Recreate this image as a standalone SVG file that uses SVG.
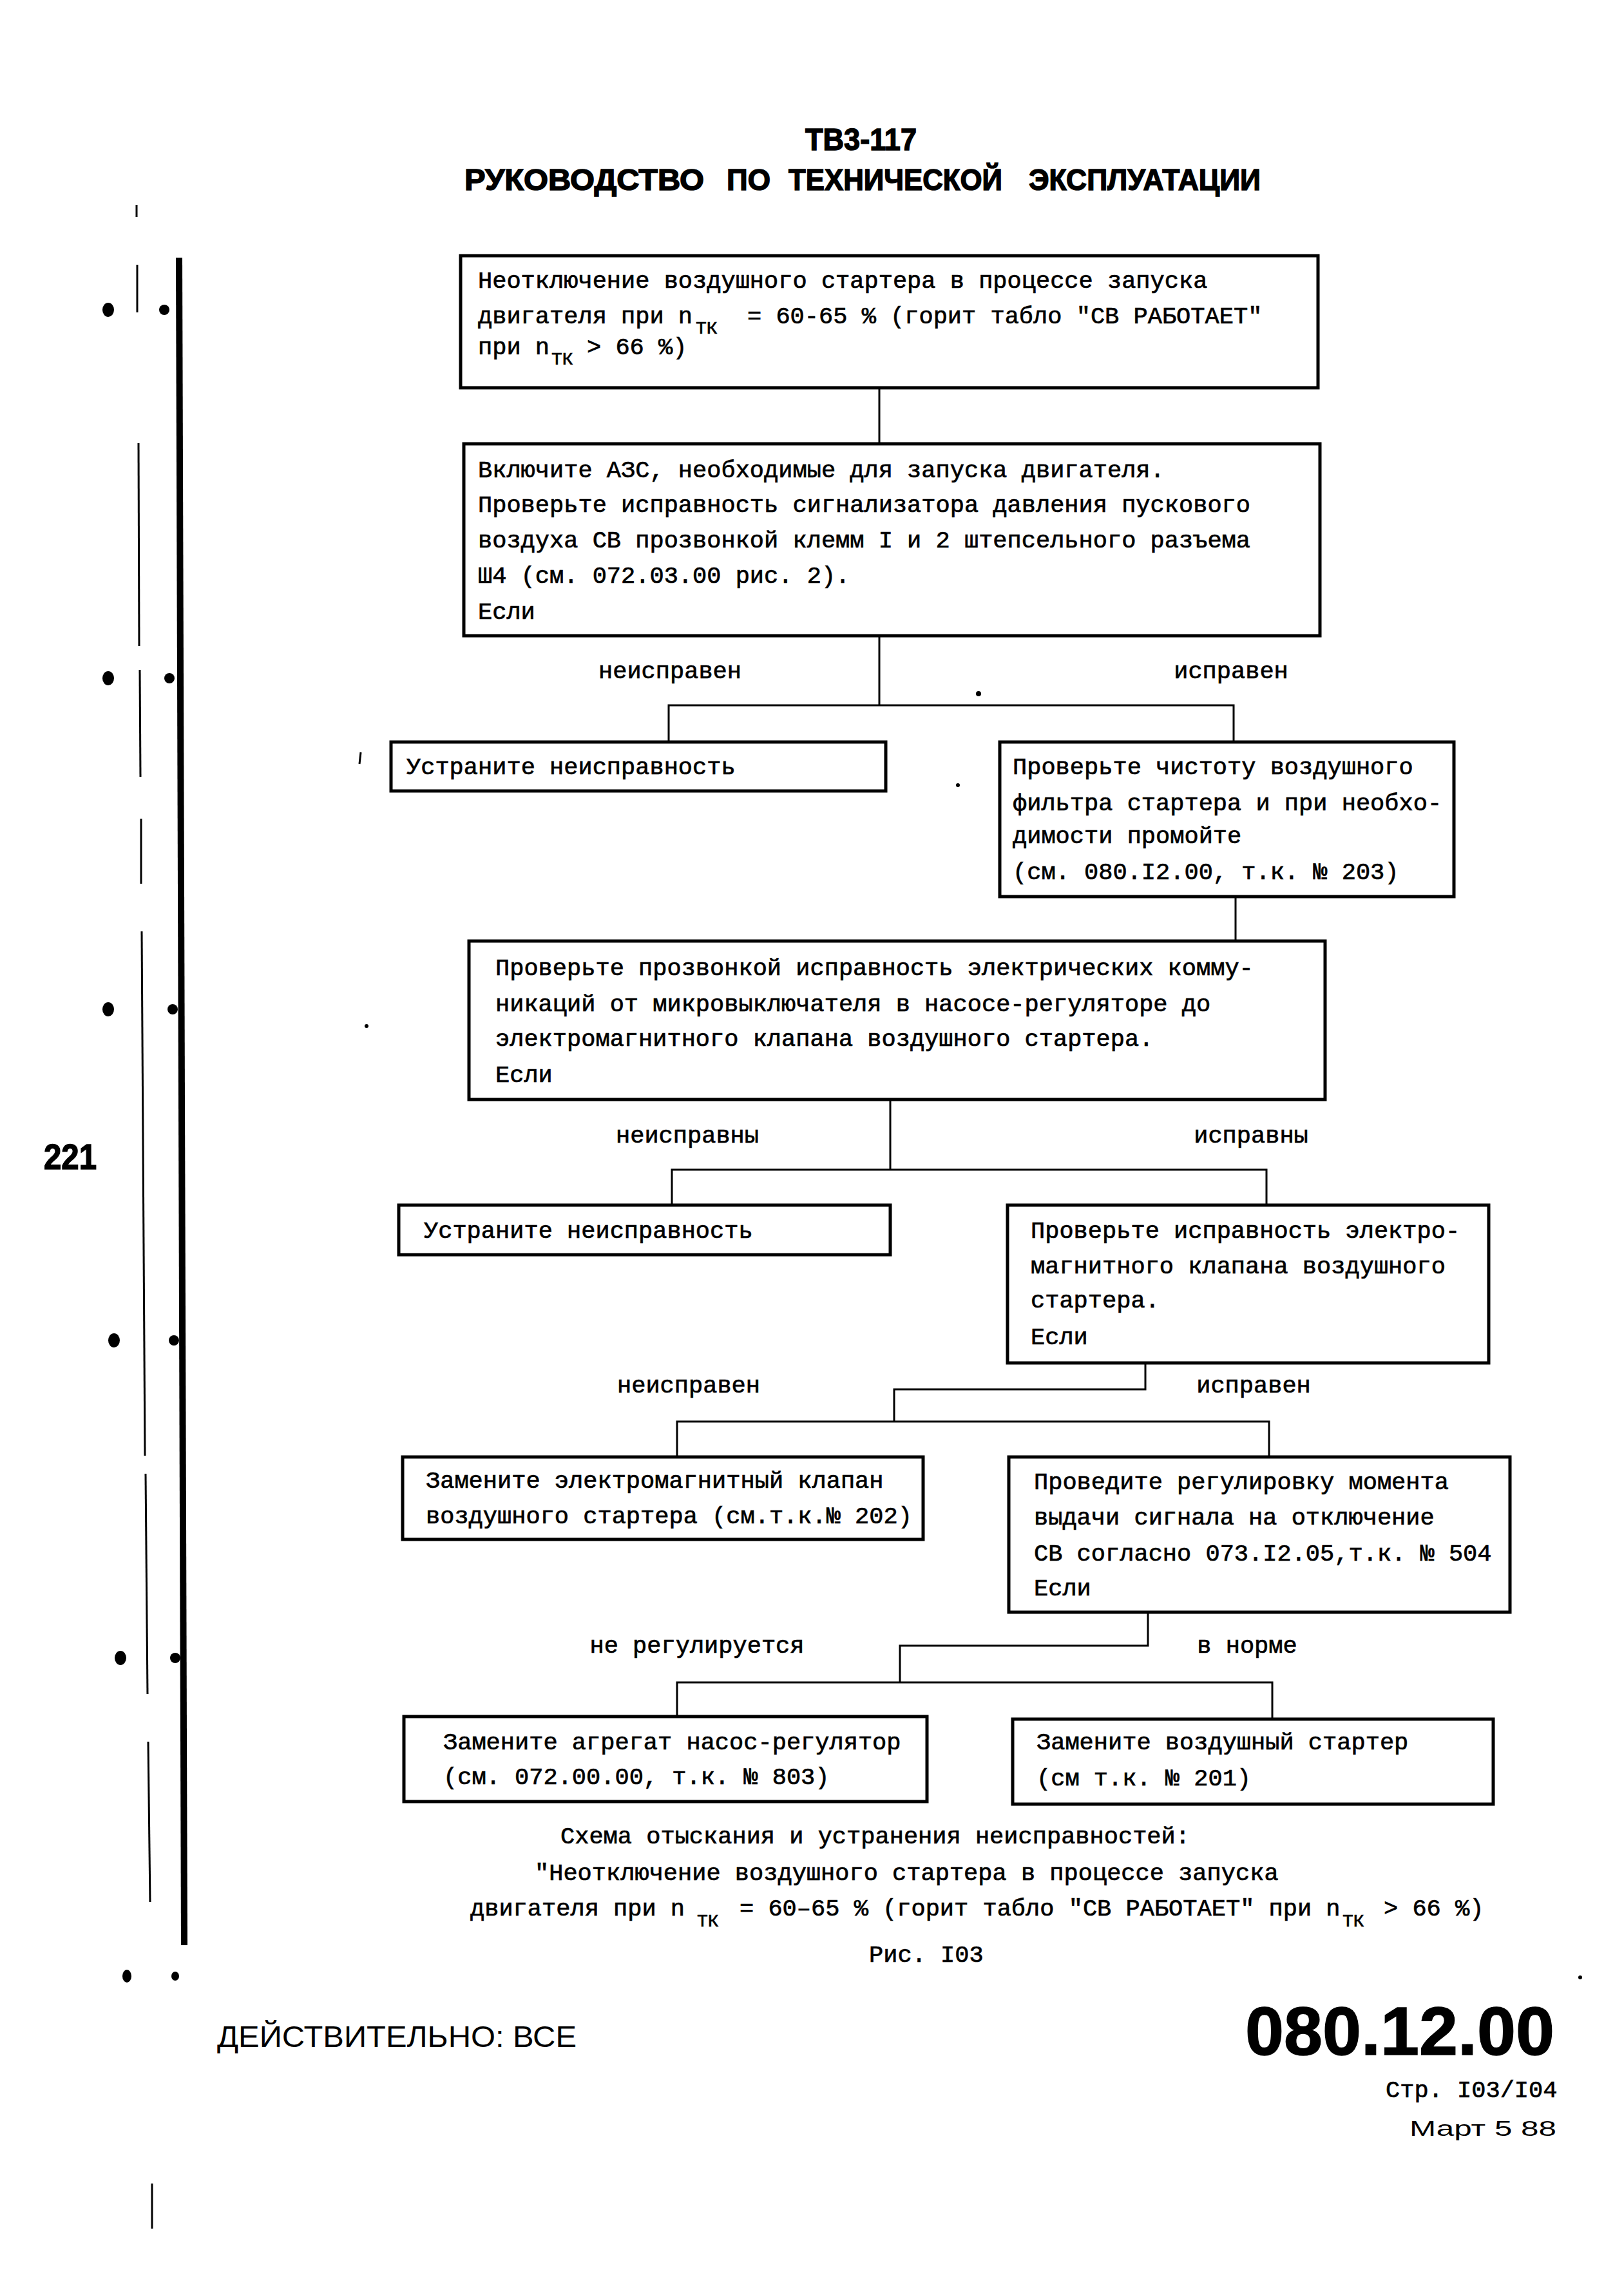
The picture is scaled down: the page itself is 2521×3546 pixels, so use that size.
<svg xmlns="http://www.w3.org/2000/svg" width="2521" height="3546" viewBox="0 0 2521 3546">
<style>
.bg{fill:#fff}
.box{fill:none;stroke:#000;stroke-width:5}
.con{fill:none;stroke:#000;stroke-width:3}
.t{font-family:"Liberation Mono","Courier New",monospace;font-size:37px;fill:#000;stroke:#000;stroke-width:0.7}
.sub{font-size:28px}
.lbl{font-family:"Liberation Mono","Courier New",monospace;font-size:37px;fill:#000;stroke:#000;stroke-width:0.7;text-anchor:middle}
.hd{font-family:"Liberation Sans",Arial,sans-serif;font-weight:bold;fill:#000;stroke:#000;stroke-width:1.5}
.sans{font-family:"Liberation Sans",Arial,sans-serif;fill:#000}
.mark{fill:#000}
</style>
<rect class="bg" x="0" y="0" width="2521" height="3546"/>

<g id="header">
<text class="hd" x="1250" y="233" font-size="48" textLength="173" lengthAdjust="spacingAndGlyphs">ТВ3-117</text>
<text class="hd" x="721" y="295" font-size="46" textLength="372" lengthAdjust="spacingAndGlyphs">РУКОВОДСТВО</text>
<text class="hd" x="1128" y="295" font-size="46" textLength="68" lengthAdjust="spacingAndGlyphs">ПО</text>
<text class="hd" x="1224" y="295" font-size="46" textLength="332" lengthAdjust="spacingAndGlyphs">ТЕХНИЧЕСКОЙ</text>
<text class="hd" x="1597" y="295" font-size="46" textLength="360" lengthAdjust="spacingAndGlyphs">ЭКСПЛУАТАЦИИ</text>
</g>

<g id="margin">
<line x1="278" y1="400" x2="286" y2="3020" stroke="#000" stroke-width="10"/>
<g stroke="#000" stroke-width="3">
<line x1="212" y1="318" x2="212" y2="337"/>
<line x1="213" y1="411" x2="213" y2="485"/>
<line x1="215" y1="688" x2="216" y2="1003"/>
<line x1="217" y1="1040" x2="218" y2="1206"/>
<line x1="219" y1="1271" x2="219" y2="1372"/>
<line x1="220" y1="1446" x2="225" y2="2260"/>
<line x1="226" y1="2288" x2="229" y2="2630"/>
<line x1="230" y1="2704" x2="233" y2="2953"/>
<line x1="236" y1="3390" x2="236" y2="3460"/>
</g>
<ellipse class="mark" cx="168" cy="481" rx="9" ry="11"/>
<ellipse class="mark" cx="168" cy="1053" rx="9" ry="11"/>
<ellipse class="mark" cx="168" cy="1567" rx="9" ry="11"/>
<ellipse class="mark" cx="177" cy="2081" rx="9" ry="11"/>
<ellipse class="mark" cx="187" cy="2574" rx="9" ry="11"/>
<ellipse class="mark" cx="197" cy="3068" rx="7" ry="10"/>
<ellipse class="mark" cx="255" cy="481" rx="8" ry="8"/>
<ellipse class="mark" cx="263" cy="1053" rx="8" ry="8"/>
<ellipse class="mark" cx="268" cy="1567" rx="8" ry="8"/>
<ellipse class="mark" cx="270" cy="2081" rx="8" ry="8"/>
<ellipse class="mark" cx="272" cy="2574" rx="8" ry="8"/>
<ellipse class="mark" cx="272" cy="3068" rx="6" ry="7"/>
<text class="hd" x="68" y="1815" font-size="56" textLength="82" lengthAdjust="spacingAndGlyphs" stroke-width="0">221</text>
<circle class="mark" cx="1519" cy="1077" r="4"/>
<circle class="mark" cx="1487" cy="1219" r="3"/>
<circle class="mark" cx="569" cy="1593" r="3"/>
<line x1="560" y1="1168" x2="558" y2="1186" stroke="#000" stroke-width="3"/>
<circle class="mark" cx="2453" cy="3070" r="3"/>
</g>

<g id="connectors">
<line class="con" x1="1365" y1="602" x2="1365" y2="689"/>
<polyline class="con" points="1365,987 1365,1095"/>
<polyline class="con" points="1038,1152 1038,1095 1915,1095 1915,1152"/>
<line class="con" x1="1918" y1="1392" x2="1918" y2="1461"/>
<line class="con" x1="1382" y1="1707" x2="1382" y2="1816"/>
<polyline class="con" points="1043,1871 1043,1816 1966,1816 1966,1871"/>
<polyline class="con" points="1778,2116 1778,2157 1388,2157 1388,2207"/>
<polyline class="con" points="1051,2262 1051,2207 1970,2207 1970,2262"/>
<polyline class="con" points="1782,2503 1782,2555 1397,2555 1397,2612"/>
<polyline class="con" points="1051,2665 1051,2612 1975,2612 1975,2669"/>
<text class="lbl" x="1040" y="1053">неисправен</text>
<text class="lbl" x="1911" y="1053">исправен</text>
<text class="lbl" x="1067" y="1774">неисправны</text>
<text class="lbl" x="1942" y="1774">исправны</text>
<text class="lbl" x="1069" y="2162">неисправен</text>
<text class="lbl" x="1946" y="2162">исправен</text>
<text class="lbl" x="1082" y="2566">не регулируется</text>
<text class="lbl" x="1936" y="2566">в норме</text>
</g>

<g id="n1">
<rect class="box" x="715" y="397" width="1331" height="205"/>
<text class="t" x="742" y="447">Неотключение воздушного стартера в процессе запуска</text>
<text class="t" x="742" y="502">двигателя при n<tspan class="sub" x="1080" y="518">ТК</tspan><tspan x="1160" y="502">= 60-65 % (горит табло "СВ РАБОТАЕТ"</tspan></text>
<text class="t" x="742" y="550">при n<tspan class="sub" x="856" y="566">ТК</tspan><tspan x="911" y="550">&gt; 66 %)</tspan></text>
</g>

<g id="n2">
<rect class="box" x="720" y="689" width="1329" height="298"/>
<text class="t" x="742" y="741">Включите АЗС, необходимые для запуска двигателя.</text>
<text class="t" x="742" y="795">Проверьте исправность сигнализатора давления пускового</text>
<text class="t" x="742" y="850">воздуха СВ прозвонкой клемм I и 2 штепсельного разъема</text>
<text class="t" x="742" y="905">Ш4 (см. 072.03.00 рис. 2).</text>
<text class="t" x="742" y="961">Если</text>
</g>

<g id="n3">
<rect class="box" x="607" y="1152" width="768" height="76"/>
<text class="t" x="631" y="1202">Устраните неисправность</text>
</g>

<g id="n4">
<rect class="box" x="1552" y="1152" width="705" height="240"/>
<text class="t" x="1572" y="1202">Проверьте чистоту воздушного</text>
<text class="t" x="1572" y="1258">фильтра стартера и при необхо-</text>
<text class="t" x="1572" y="1309">димости промойте</text>
<text class="t" x="1572" y="1365">(см. 080.I2.00, т.к. № 203)</text>
</g>

<g id="n5">
<rect class="box" x="728" y="1461" width="1329" height="246"/>
<text class="t" x="769" y="1514">Проверьте прозвонкой исправность электрических комму-</text>
<text class="t" x="769" y="1570">никаций от микровыключателя в насосе-регуляторе до</text>
<text class="t" x="769" y="1624">электромагнитного клапана воздушного стартера.</text>
<text class="t" x="769" y="1680">Если</text>
</g>

<g id="n6">
<rect class="box" x="619" y="1871" width="763" height="77"/>
<text class="t" x="658" y="1922">Устраните неисправность</text>
</g>

<g id="n7">
<rect class="box" x="1564" y="1871" width="747" height="245"/>
<text class="t" x="1600" y="1922">Проверьте исправность электро-</text>
<text class="t" x="1600" y="1977">магнитного клапана воздушного</text>
<text class="t" x="1600" y="2030">стартера.</text>
<text class="t" x="1600" y="2087">Если</text>
</g>

<g id="n8">
<rect class="box" x="625" y="2262" width="808" height="128"/>
<text class="t" x="661" y="2310">Замените электромагнитный клапан</text>
<text class="t" x="661" y="2365">воздушного стартера (см.т.к.№ 202)</text>
</g>

<g id="n9">
<rect class="box" x="1566" y="2262" width="778" height="241"/>
<text class="t" x="1605" y="2312">Проведите регулировку момента</text>
<text class="t" x="1605" y="2367">выдачи сигнала на отключение</text>
<text class="t" x="1605" y="2423">СВ согласно 073.I2.05,т.к. № 504</text>
<text class="t" x="1605" y="2477">Если</text>
</g>

<g id="n10">
<rect class="box" x="627" y="2665" width="812" height="132"/>
<text class="t" x="688" y="2716">Замените агрегат насос-регулятор</text>
<text class="t" x="688" y="2770">(см. 072.00.00, т.к. № 803)</text>
</g>

<g id="n11">
<rect class="box" x="1572" y="2669" width="746" height="132"/>
<text class="t" x="1609" y="2716">Замените воздушный стартер</text>
<text class="t" x="1609" y="2772">(см т.к. № 201)</text>
</g>

<g id="caption">
<text class="t" x="870" y="2862">Схема отыскания и устранения неисправностей:</text>
<text class="t" x="830" y="2919">"Неотключение воздушного стартера в процессе запуска</text>
<text class="t" x="730" y="2974">двигателя при n<tspan class="sub" x="1082" y="2991">ТК</tspan><tspan x="1148" y="2974">= 60–65 % (горит табло "СВ РАБОТАЕТ" при n</tspan><tspan class="sub" x="2084" y="2991">ТК</tspan><tspan x="2148" y="2974">&gt; 66 %)</tspan></text>
<text class="t" x="1349" y="3046">Рис. I03</text>
</g>

<g id="footer">
<text class="sans" x="337" y="3178" font-size="46" textLength="558" lengthAdjust="spacingAndGlyphs">ДЕЙСТВИТЕЛЬНО: ВСЕ</text>
<text class="hd" x="1933" y="3190" font-size="106" textLength="480" lengthAdjust="spacingAndGlyphs">080.12.00</text>
<text class="t" x="2151" y="3256">Стр. I03/I04</text>
<text class="sans" x="2188" y="3316" font-size="34" fill="#333" textLength="228" lengthAdjust="spacingAndGlyphs">Март  5 88</text>
</g>
</svg>
